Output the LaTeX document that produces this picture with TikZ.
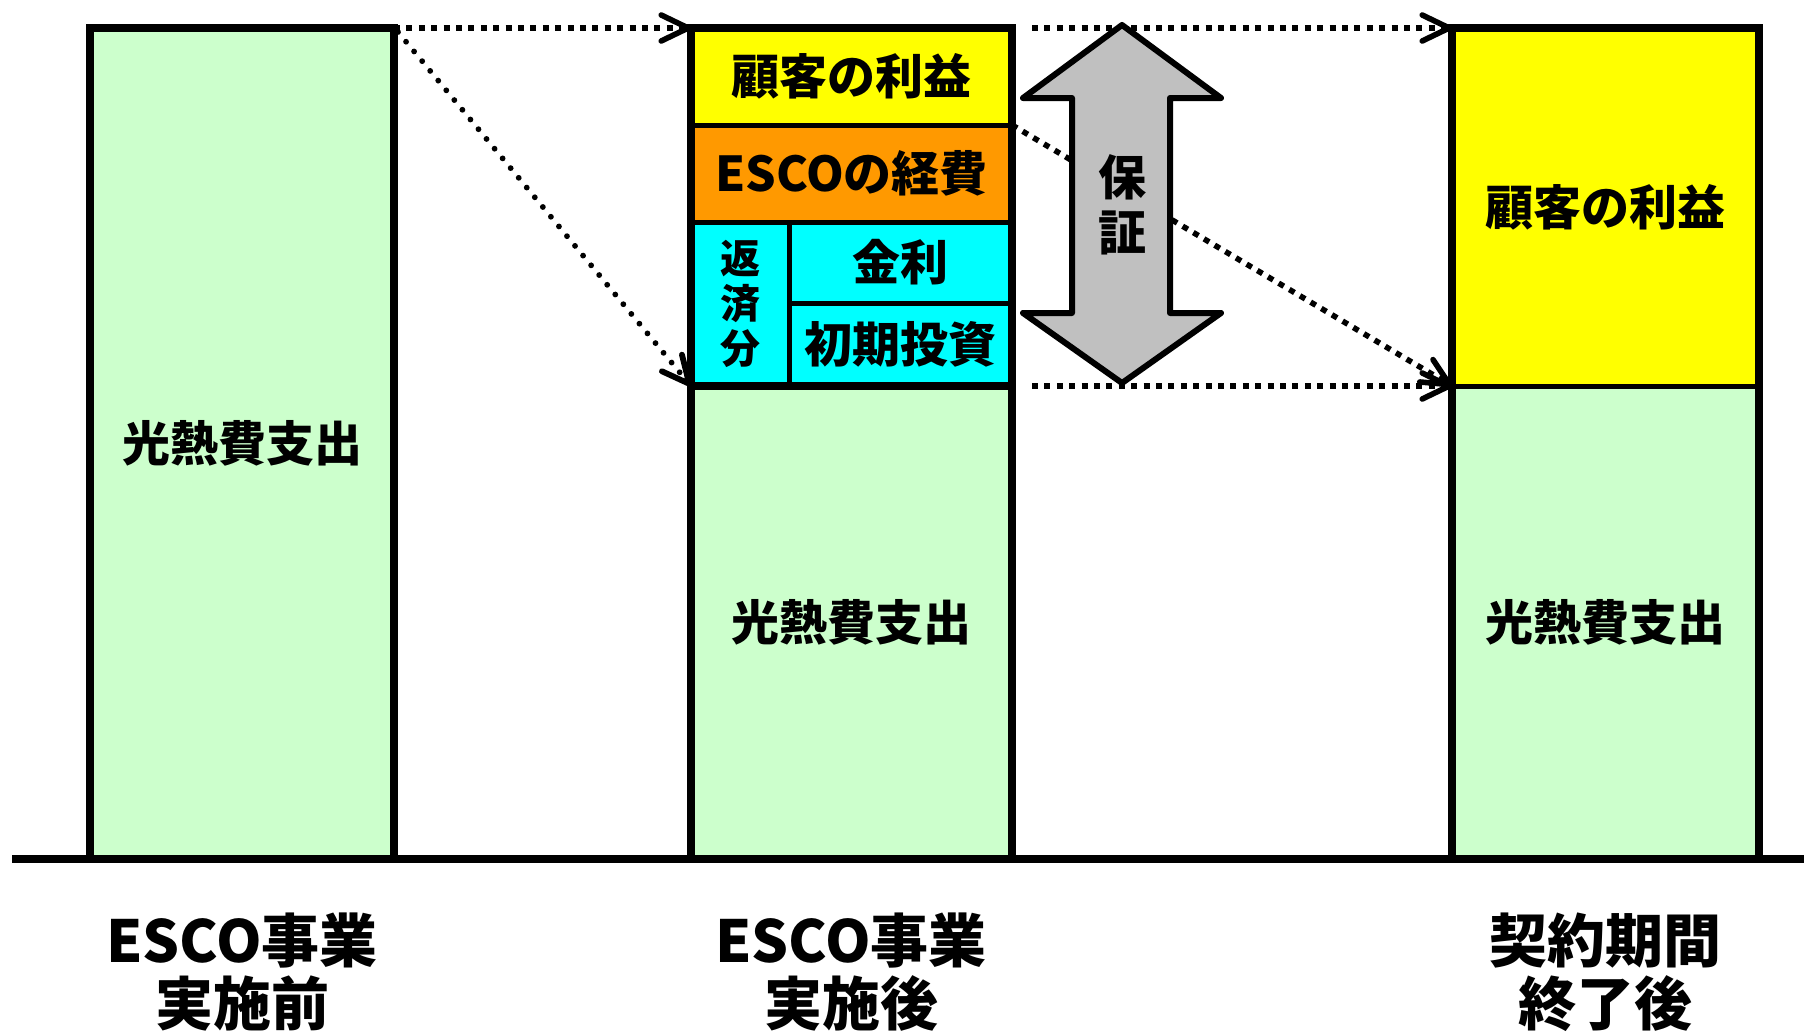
\documentclass[tikz,border=0pt]{standalone}
\usepackage{fontspec}
\setmainfont{Noto Sans CJK JP}
\usetikzlibrary{fit,arrows.meta,calc}
\definecolor{lgreen}{HTML}{CCFFCC}
\definecolor{byellow}{HTML}{FFFF00}
\definecolor{borange}{HTML}{FF9900}
\definecolor{bcyan}{HTML}{00FFFF}
\definecolor{agray}{HTML}{C0C0C0}
\begin{document}
\begin{tikzpicture}[x=0.5pt,y=-0.5pt,
  sec/.style={draw=black, line width=2.5pt, inner sep=0pt, outer sep=0pt},
  lbl/.style={font=\fontsize{24pt}{27pt}\selectfont\bfseries, align=center, inner sep=0pt},
  barframe/.style={draw=black, line width=4pt},
  dotarr/.style={line width=2.8pt, dash pattern=on 3pt off 3.2pt,
    -{Straight Barb[length=13.5pt,width=13pt,round]}},
  rounddotarr/.style={line width=2.9pt, line cap=round, dash pattern=on 0.01pt off 6.3pt,
    -{Straight Barb[length=13.5pt,width=13pt,round]}},
  bottomlabel/.style={font=\fontsize{29pt}{31.5pt}\selectfont\bfseries, align=center}
]
\useasboundingbox (0,0) rectangle (1804,1033);
\fill[white] (0,0) rectangle (1804,1033);

% left bar
\node[sec, fill=lgreen, line width=4pt, fit={(90,28) (394,859)}] (lbar) {};

% middle bar
\node[sec, fill=byellow, fit={(691,28) (1012,125)}] (myel) {};
\node[sec, fill=borange, fit={(691,125) (1012,222)}] (mora) {};
\node[sec, fill=bcyan, fit={(691,222) (789,386)}] (mrep) {};
\node[sec, fill=bcyan, fit={(789,222) (1012,303)}] (mint) {};
\node[sec, fill=bcyan, fit={(789,303) (1012,386)}] (minv) {};
\node[sec, fill=lgreen, fit={(691,386) (1012,859)}] (mgrn) {};
\draw[barframe] (myel.north west) rectangle (mgrn.south east);
\draw[line width=4pt] (mgrn.north west) -- (mgrn.north east);

% right bar
\node[sec, fill=byellow, fit={(1452,28) (1759,386)}] (ryel) {};
\node[sec, fill=lgreen, fit={(1452,386) (1759,859)}] (rgrn) {};
\draw[barframe] (ryel.north west) rectangle (rgrn.south east);

% section labels
\node[lbl] (tlbar) at ($(lbar.north west)!0.5!(lbar.south east)$) {光熱費支出};
\node[lbl] (tmyel) at ($(myel.north west)!0.5!(myel.south east)$) {顧客の利益};
\node[lbl] (tmora) at ($(mora.north west)!0.5!(mora.south east)$) {ESCOの経費};
\node[lbl, font=\fontsize{20pt}{22.5pt}\selectfont\bfseries] (tmrep) at ($(mrep.north west)!0.5!(mrep.south east)$) {返\\済\\分};
\node[lbl] (tmint) at ($(mint.north west)!0.5!(mint.south east)$) {金利};
\node[lbl] (tminv) at ($(minv.north west)!0.5!(minv.south east)$) {初期投資};
\node[lbl] (tmgrn) at ($(mgrn.north west)!0.5!(mgrn.south east)$) {光熱費支出};
\node[lbl] (tryel) at ($(ryel.north west)!0.5!(ryel.south east)$) {顧客の利益};
\node[lbl] (trgrn) at ($(rgrn.north west)!0.5!(rgrn.south east)$) {光熱費支出};

% baseline
\coordinate (basew) at (12,859);
\coordinate (basee) at (1804,859);
\draw[line width=4pt] (basew) -- (basee);

% dotted connectors
\draw[dotarr] (lbar.north east) -- (myel.north west);
\draw[rounddotarr] ([shift={(4,4)}]lbar.north east) -- (mgrn.north west);
\draw[dotarr] ([xshift=10]myel.north east) -- (ryel.north west);
\draw[dotarr] (myel.south east) -- (ryel.south west);
\draw[dotarr] ([xshift=10]mgrn.north east) -- (rgrn.north west);

% guarantee double arrow
\draw[fill=agray, line width=3pt, line join=round]
  (1122,25) -- (1221,98) -- (1170,98) -- (1170,313) -- (1221,313) -- (1122,383)
  -- (1023,313) -- (1072,313) -- (1072,98) -- (1023,98) -- cycle;
\node[font=\fontsize{24pt}{27.5pt}\selectfont\bfseries, align=center] (hosho) at (1122,205) {保\\証};

% bottom labels
\node[bottomlabel] (lab1) at (242,972) {ESCO事業\\実施前};
\node[bottomlabel] (lab2) at (851,972) {ESCO事業\\実施後};
\node[bottomlabel] (lab3) at (1605,972) {契約期間\\終了後};
\end{tikzpicture}
\end{document}
